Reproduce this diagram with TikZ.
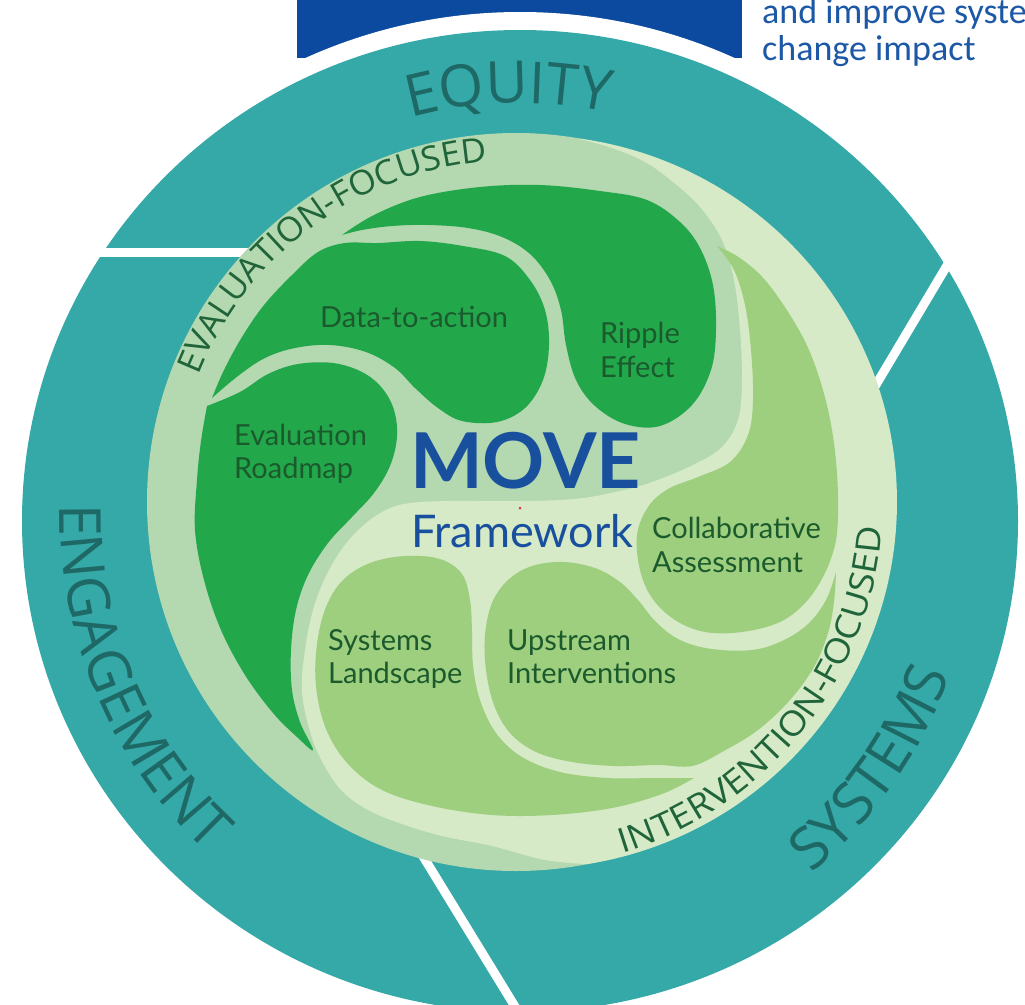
\documentclass[tikz,border=0pt]{standalone}
\usepackage{fontspec}
\setmainfont{Lato}
\newfontfamily\latofont{Lato}
\newfontfamily\openfont{Open Sans}
\newfontfamily\bandopenA[FakeStretch=1.03]{Open Sans}
\newfontfamily\bandopenB[FakeStretch=1.10]{Open Sans}
\newfontfamily\calfont{Carlito}
\usetikzlibrary{decorations.text}
\definecolor{boxblue}{RGB}{11,74,158}
\definecolor{ringteal}{RGB}{53,168,168}
\definecolor{ringtext}{RGB}{30,104,102}
\definecolor{palea}{RGB}{180,216,176}
\definecolor{paleb}{RGB}{214,234,200}
\definecolor{greena}{RGB}{35,167,75}
\definecolor{greenb}{RGB}{158,207,126}
\definecolor{lobetext}{RGB}{27,90,45}
\definecolor{bandtext}{RGB}{32,100,58}
\definecolor{moveblue}{RGB}{24,80,158}
\definecolor{topblue}{RGB}{28,88,166}
\definecolor{dotred}{RGB}{210,60,60}
\newcommand\lobefont{\latofont\fontsize{29}{34}\selectfont}
\newcommand\movefont{\latofont\bfseries\fontsize{77}{80}\selectfont}
\newcommand\fwfont{\latofont\fontsize{45}{50}\selectfont}
\newcommand\ringfont{\openfont\fontsize{58}{60}\selectfont}
\newcommand\bandfontA{\bandopenA\fontsize{34}{36}\selectfont}
\newcommand\bandfontB{\bandopenB\fontsize{34}{36}\selectfont}
\newcommand\topfont{\calfont\fontsize{36}{40}\selectfont}
\tikzset{
  ringlabel/.style={decorate, decoration={text along path, text align=center, text color=ringtext, text={|\ringfont|#1}}},
  bandlabelA/.style={decorate, decoration={text along path, text align=center, text color=bandtext, text={|\bandfontA|#1}}},
  bandlabelB/.style={decorate, decoration={text along path, text align=center, text color=bandtext, text={|\bandfontB|#1}}},
  lobelabel/.style={anchor=base west, inner sep=0pt, text=lobetext, font=\lobefont},
  titlelabel/.style={anchor=base west, inner sep=0pt, text=moveblue},
  toplabel/.style={anchor=base west, inner sep=0pt, text=topblue, font=\topfont},
  cutline/.style={draw=white, line width=9pt},
  lobeA/.style={fill=greena},
  lobeB/.style={fill=greenb},
}
\begin{document}
\begin{tikzpicture}[x=1pt,y=-1pt]
\useasboundingbox (0,0) rectangle (1025,1004);
\clip (0,0) rectangle (1025,1004);
% blue box behind the ring
\fill[boxblue] (297,-5) rectangle (742,58);
\fill[white] (520,521) ellipse [x radius=516, y radius=509];
% teal ring
\fill[ringteal] (520,521) ellipse [x radius=498, y radius=491];
\draw[cutline] (80,252) -- (250,252);
\draw[cutline] (855,420) -- (961,242);
\draw[cutline] (410,835) -- (522,1018);
% pale disks
\fill[palea] (516,502) circle [radius=369];
\fill[paleb] plot[domain=-80:79, samples=80, smooth] ({516+(369+12*sin((\x+80)*1.1321))*cos(\x)}, {502+(369+12*sin((\x+80)*1.1321))*sin(\x)})
  -- plot[smooth, tension=0.6] coordinates {(586,864) (545,860) (492,846) (442,836) (402,824) (368,810) (342,791) (324,765) (311,735) (302,692) (305,650) (313,610) (326,576) (344,546) (366,523) (388,509) (410,503) (447,501) (480,501) (520,501) (560,500) (590,497) (615,492) (640,486) (668,476) (697,463) (722,447) (738,420) (742,380) (740,330) (734,280) (722,240) (700,207) (673,182) (645,162) (612,148) (580,139)} -- cycle;
% dark green lobes
\fill[lobeA] plot[smooth, tension=0.6] coordinates {(342,235) (374,215) (420,197) (480,187) (540,185) (600,191) (647,200) (680,222) (700,248) (713,285) (716,330) (711,370) (692,405) (660,426) (625,424) (595,406) (576,380) (566,345) (561,310) (550,280) (530,254) (502,237) (468,228) (428,225) (392,226) (362,230) (342,235)} -- cycle;
\fill[lobeA] plot[smooth, tension=0.6] coordinates {(212,398) (224,370) (242,337) (264,305) (292,275) (318,252) (345,243) (378,243) (420,241) (463,246) (505,256) (530,280) (545,310) (549,345) (543,380) (525,408) (497,422) (462,421) (438,408) (415,388) (395,368) (366,352) (330,345) (295,348) (265,358) (238,376) (212,398)} -- cycle;
\fill[lobeA] plot[smooth, tension=0.6] coordinates {(207,406) (201,441) (197,480) (195,530) (204,580) (221,630) (245,675) (273,713) (297,737) (313,750) (300,722) (292,690) (291,650) (296,610) (308,575) (328,543) (352,517) (374,493) (390,466) (397,437) (394,410) (382,388) (362,372) (333,363) (298,364) (268,374) (240,392) (207,406)} -- cycle;
% light green lobes
\fill[lobeB] plot[smooth, tension=0.6] coordinates {(717,246) (740,258) (765,280) (790,315) (809,350) (823,390) (832,430) (837,473) (838,515) (835,545) (824,575) (806,602) (780,622) (742,632) (705,632) (675,620) (652,598) (640,570) (637,535) (648,507) (668,489) (698,477) (730,462) (748,435) (753,400) (751,350) (745,305) (734,270) (717,246)} -- cycle;
\fill[lobeB] plot[smooth, tension=0.6] coordinates {(836,572) (826,600) (808,624) (782,641) (752,650) (712,649) (680,640) (656,622) (638,600) (620,582) (595,568) (563,562) (532,566) (508,580) (492,603) (485,635) (486,670) (494,705) (510,733) (536,752) (572,762) (615,766) (658,765) (692,766) (722,752) (758,730) (790,700) (814,667) (828,633) (834,602) (836,572)} -- cycle;
\fill[lobeB] plot[smooth, tension=0.6] coordinates {(694,778) (662,794) (612,808) (552,815) (492,815) (432,806) (382,790) (348,764) (326,729) (316,686) (317,644) (326,607) (343,580) (370,563) (405,556) (440,559) (462,574) (470,600) (472,630) (473,665) (480,700) (496,733) (522,757) (560,772) (608,778) (655,778) (694,778)} -- cycle;
\fill[dotred] (520,508) circle [radius=1.5];
% curved ring labels
\path[ringlabel=EQUITY] plot[smooth, variable=\t, domain=0:1, samples=50] ({520+418*cos(238+61*\t)},{521+418*sin(238+61*\t)});
\path[ringlabel=ENGAGEMENT] plot[smooth, variable=\t, domain=0:1, samples=60] ({520+460*cos(205-96*\t)},{515+460*sin(205-96*\t)});
\path[ringlabel=SYSTEMS] plot[smooth, variable=\t, domain=0:1, samples=60] ({520+457*cos(80-90*\t)},{521+457*sin(80-90*\t)});
\path[bandlabelA=EVALUATION-FOCUSED] plot[smooth, variable=\t, domain=0:1, samples=60] ({516+342*cos(188+91*\t)},{502+342*sin(188+91*\t)});
\path[bandlabelB=INTERVENTION-FOCUSED] plot[smooth, variable=\t, domain=0:1, samples=60] ({516+367*cos(86-95*\t)},{502+367*sin(86-95*\t)});
% lobe labels
\node[lobelabel] (dta) at (320,327) {Data-to-action};
\node[lobelabel] (rip1) at (600,343) {Ripple};
\node[lobelabel] (rip2) at (600,377) {Effect};
\node[lobelabel] (er1) at (234,445) {Evaluation};
\node[lobelabel] (er2) at (234,478) {Roadmap};
\node[lobelabel] (ca1) at (652,538) {Collaborative};
\node[lobelabel] (ca2) at (652,572) {Assessment};
\node[lobelabel] (sl1) at (328,650) {Systems};
\node[lobelabel] (sl2) at (328,683) {Landscape};
\node[lobelabel] (ui1) at (507,650) {Upstream};
\node[lobelabel] (ui2) at (507,683) {Interventions};
\node[titlelabel, font=\movefont] (move) at (410,488) {MOVE};
\node[titlelabel, font=\fwfont] (fw) at (411,547) {Framework};
\node[toplabel] (top1) at (762,23) {and improve syste};
\node[toplabel] (top2) at (762,60) {change impact};
\end{tikzpicture}
\end{document}
